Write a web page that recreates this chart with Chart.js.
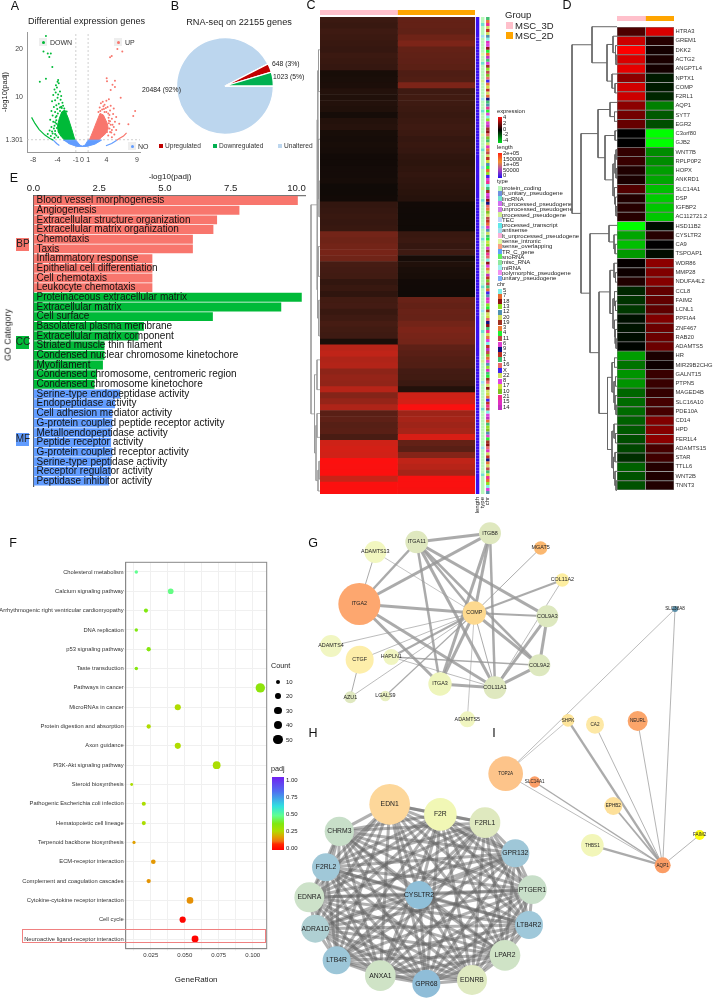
<!DOCTYPE html>
<html lang="en">
<head>
<meta charset="UTF-8" />
<title>MSC 3D vs 2D RNA-seq</title>
<script src="https://cdn.jsdelivr.net/npm/chart.js"></script>
<style>
  html, body { margin: 0; background: #fff; }
  #page { position: relative; width: 713px; height: 998px; overflow: hidden; font-family: "Liberation Sans", sans-serif; color: #222; }
  #page canvas { position: absolute; }
  #page span { position: absolute; white-space: nowrap; line-height: 1; will-change: transform; }
  #page i { position: absolute; display: block; }
</style>
</head>
<body>
<div id="page"></div>
<script>
// A: volcano
const volcanoDown = [[-5.9,22.6],[-6.45,21.4],[-6.3,19.4],[-5.1,19],[-5.6,19],[-5.35,18.3],[-4.86,16.2],[-5.9,13.8],[-6.9,13.2],[-3.9,13.55],[-4,13.2],[-4.26,12.5],[-3.8,12.9],[-4.1,12],[-4.5,11.6],[-3.6,11.2],[-4.3,11],[-3.9,10.6],[-4.7,10.5],[-3.4,10.3],[-4,9.9],[-4.4,9.4],[-3.5,9.5],[-4.9,9.2],[-3.2,8.9],[-3.8,8.7],[-4.2,8.4],[-3.1,8.3],[-4.6,8],[-3.6,7.9],[-4.05,7.6],[-5,7.2],[-4.4,7],[-4.8,6.3],[-4.3,5.9],[-5.2,5.4],[-4.7,5],[-4.5,4.2],[-5,3.9],[-5.3,3.2],[-4.4,3.1],[-4.8,2.6],[-4.2,2.2],[-3.9,1.8],[-4.5,1.7],[-3.3,7.8],[-2.9,7.7],[-3.6,7.2],[-3.95,6.7],[-4.15,6.2],[-2.5,7.1],[-3.4,8.1],[-4.4,4.9],[-4.2,5.3],[-4.6,3.6],[-4.9,3],[-5.6,2.5],[-5.1,2.1],[-4.4,2.5],[-4.1,3.7],[-4.2,4.6]];
const volcanoUp = [[5.8,19.9],[6.6,19.4],[4.87,18.5],[4.6,18.2],[5.4,13.4],[4.05,13.9],[5,12.6],[4.1,13.3],[5.4,12.1],[4.7,11.5],[6.34,9.9],[8.7,7.2],[8.4,6.2],[7.6,4.5],[4.4,9.6],[4,9.3],[3.4,9.1],[3.1,8.8],[3.7,8.5],[4.7,8.3],[4.2,8],[2.9,7.9],[3.6,7.6],[5.2,7.7],[4.6,7.3],[4,7],[5.1,6.6],[4.5,6.4],[5.6,6],[4.9,5.6],[4.4,5.2],[5.4,5],[6.1,4.6],[4.7,4.4],[5.2,3.9],[4.5,3.6],[5.6,3.3],[4.8,2.8],[5.3,2.4],[4.3,2.2],[4.9,1.8],[3.3,7.5],[3.9,7.8],[3,7.2],[3.7,7],[2.7,7],[4.3,6.7],[3.5,8.2],[4.4,4.7],[4.6,5.1],[4.35,5.8],[4.9,3.3],[5,4.4],[4.6,2.9],[4.1,2.9]];
const denseDown = [[-1.15,1.23],[-1.7,3.6],[-2.24,5.7],[-2.8,7.4],[-3.3,7.05],[-3.7,5.7],[-4,4.3],[-3.9,2.9],[-3.3,1.8],[-2.8,1.23]];
const denseUp = [[1.2,1.23],[1.75,2.9],[2.4,5],[2.95,6.7],[3.5,6.4],[4.15,4.65],[4.3,3.6],[3.9,2.6],[3.2,1.8],[2.7,1.23]];
const denseNo = [[-3.06,1.23],[-1,1.23],[-0.33,0.2],[0.05,0],[0.5,0.2],[1,1.23],[3.2,1.23],[2.1,0.4],[0.77,-0.05],[-0.87,-0.05],[-2.24,0.55]];
const tailDown = [[-8.25,5.9],[-7.7,4.65],[-7,3.4],[-6.07,2.26],[-5.25,1.57],[-4.7,1.23]];
const tailUp = [[7.3,2.74],[6.8,2.05],[6.1,1.57],[5.7,1.23]];
const tailNoLeft = [[-4.7,1.23],[-4.15,0.55],[-3.7,0.14]];
const tailNoRight = [[5.7,1.23],[4.86,0.55],[3.93,0.07]];
const volcanoXTicks = [-8, -4, -1, 0, 1, 4, 9];
const volcanoYTicks = [1.301, 10, 20];

// B: pie
const pieLabels = ["Unaltered", "Upregulated", "Downregulated"];
const pieValues = [20484, 648, 1023];

// C: heatmap rows, top to bottom
const expr3D = [.95,.9,1,.95,.9,.85,.95,.9,.85,.3,.35,.4,.55,.5,.55,.5,.25,.55,.6,.3,.25,.3,.25,.15,.15,.2,.2,.25,.1,.1,.15,.8,.85,.9,.85,.9,2,1.9,2,2.05,1.95,1.15,1.1,1.05,.8,.9,.75,1.05,1.1,.9,1,1.15,1.05,1,.35,2.8,2.9,2.7,2.75,2.3,2.4,2.35,2.8,2.2,2.4,2.7,1.5,1.6,1.45,1.5,1.2,3.1,3.2,3.15,3.95,3.9,3.95,3,3.95,3.95];
const expr2D = [1.7,1.7,1.65,1.9,2.1,1.7,1.65,1.6,1.55,1.3,1.35,2.1,1,1.05,1,.95,.9,.95,1,.95,.85,.9,.85,.75,.7,.75,.8,.75,.7,.65,.6,.15,.12,.1,.12,.1,.9,.95,.85,1,.25,.5,.35,.3,.15,.12,.1,1.8,1.7,1.8,1.75,2,2.1,2.05,2,1.6,1.5,1.4,1.35,1.1,1.05,.95,.55,3.1,3.2,3.9,2.5,2.6,2.5,2.6,3.3,1.7,1.5,2.2,2.9,2.8,2.6,3.9,3.9,3.85];
const cTree = [9,
  [3, [2.2, [1.5, 5, 12], [1.6, 20, [1, 27, 33]]], [2.5, [1.8, 38, 43], [1.2, 47, 53]]],
  [5.5, [3, 57, 62], [4, [3, 66, 70], [2, [1, 74, 77], 79]]]];
const trackNames = ["length", "type", "chr"];
const typeLevels = ["protein_coding","lt_unitary_pseudogene","lincRNA","lt_processed_pseudogene","unprocessed_pseudogene","processed_pseudogene","TEC","processed_transcript","antisense","lt_unprocessed_pseudogene","sense_intronic","sense_overlapping","TR_C_gene","snoRNA","misc_RNA","miRNA","polymorphic_pseudogene","unitary_pseudogene"];
const typeFills = ["#b9f8b9","#6f90e0","#70e0d0","#d070f0","#d080e8","#d0f090","#c0d0f8","#60e8e8","#a0e0f0","#f8b0d8","#e0f8a0","#f8a080","#60a0f8","#60f060","#90e8a0","#a0f0f0","#f090f0","#80b0f8"];
const chrLevels = ["5","7","18","13","12","20","19","3","4","11","6","9","2","1","16","X","22","8","17","10","21","15","14"];
const chrFills = ["#7ff0e8","#e86a30","#8f1010","#90e020","#5090b0","#d0e060","#a03020","#e87838","#20f030","#c04848","#e040d0","#101080","#c03020","#40c070","#e86868","#4020f0","#d0e060","#e040e0","#d0e040","#80c020","#f03090","#e030c0","#c030c0"];
const typeTrack = [0,0,2,0,0,0,8,0,0,0,0,0,10,0,0,2,0,0,0,0,0,5,0,0,0,0,0,8,0,0,0,2,0,0,0,0,0,0,0,10,0,0,0,0,2,0,0,0,0,0,8,0,0,0,0,0,0,5,0,0,0,2,0,0,0,0,0,0,0,0,8,0,0,0,2,0,0,0,0,0,0,0,10,0,0,0,0,0,0,0,2,0,0,0,0,0,0,0,8,0,0,0,0,0,0,2,0,0,0,0,0,0,0,0,0,5,0,0,0,0,0,0,8,0,0,0,0,0,0,0,0,2,0,0,0,0,0,0,0,0,0,0,0,0,8,0,0,0,0,0,0,0,0,2,0,0,0,0,0,0];
const chrTrack = [13,7,20,16,12,5,4,0,21,17,2,8,1,22,13,10,6,3,9,19,14,15,7,18,12,5,1,11,13,4,20,8,17,0,3,10,22,6,2,14,19,13,5,21,7,9,16,12,18,4,8,1,3,15,10,20,0,13,6,17,22,2,11,14,7,19,5,9,12,1,21,4,16,13,8,18,3,10,6,20,14,0,2,17,7,5,22,12,19,9,13,1,15,4,21,10,3,8,6,16,18,14,11,2,13,20,5,7,17,0,12,22,9,19,1,10,4,3,21,13,8,6,14,16,2,5,18,7,15,12,20,9,0,17,22,1,13,3,19,4,10,8,6,2,14,21,5,12,11,7,16,9,13,18,20,1,3,0,17,4];
const lengthTrack = [6,9,4,12,8,5,14,7,3,10,6,8,22,5,9,4,11,7,6,13,5,8,3,9,15,6,4,10,7,5,12,8,6,3,9,18,7,5,11,4,8,6,10,5,13,7,4,9,6,12,5,8,16,4,7,10,6,3,11,8,5,9,7,14,4,6,10,8,5,12,3,7,9,6,20,5,8,11,4,7,6,10,5,13,8,4,9,7,6,11,5,3,12,8,6,10,7,4,15,9,5,8,6,11,4,7,10,5,9,6,13,3,8,7,5,12,6,10,4,9,7,5,17,8,6,11,4,7,9,5,10,6,3,12,8,7,5,9,6,14,4,10,8,5,7,11,6,9,4,8,5,13,7,6,10,4,9,8,5,6];
const groupNames = ["MSC_3D", "MSC_2D"];

// D: heatmap rows
const dGenes = ["HTRA3","GREM1","DKK2","ACTG2","ANGPTL4","NPTX1","COMP","F2RL1","AQP1","SYT7","EGR2","C3orf80","GJB2","WNT7B","RPLP0P2","HOPX","ANKRD1","SLC14A1","DSP","IGFBP2","AC112721.2","HSD11B2","CYSLTR2","CA9","TSPOAP1","WDR86","MMP28","NDUFA4L2","CCL8","FAIM2","LCNL1","PPFIA4","ZNF467","RAB20","ADAMTS5","HR","MIR29B2CHG","GALNT15","PTPN5","MAGED4B","SLC16A10","PDE10A","CD14","HPD","FER1L4","ADAMTS15","STAR","TTLL6","WNT2B","TNNT3"];
const d3D = [.3,.8,1,.85,.9,.55,.82,.8,.55,.45,.4,0,0,.2,.22,.12,.1,.32,.13,.15,.15,-1,-.65,-.75,-.6,.02,.05,.13,-.15,-.2,-.22,-.06,-.08,-.05,-.02,-.62,-.45,-.58,-.58,-.4,-.42,-.42,-.38,-.35,-.3,-.28,-.18,-.38,-.32,-.32];
const d2D = [.85,.15,.08,.1,.08,-.1,-.1,-.15,-.5,-.35,-.3,-1,-1,-.55,-.55,-.62,-.65,-.75,-.8,-.78,-.78,-.05,.15,0,-.05,.55,.5,.52,.38,.38,.37,.5,.42,.42,.42,.1,.05,.22,.22,.2,.27,.27,.5,.52,.55,.28,.25,.14,.12,.13];
const dTree = [45,
  [25, 0, [10, [4, 1, [1.5, 2, [1, 3, 4]]], [5, 5, [2, 6, 7]]]],
  [36,
    [19, [7, 8, [2.5, 9, 10]], [12, [2, 11, 12], [4, [2, [1, 13, 14], [1, 15, 16]], [2.5, 17, [1.5, 18, [1, 19, 20]]]]]],
    [27, [8, 21, [3, 22, [2, 23, 24]]],
      [18, [7, [3, 25, [1.5, 26, 27]], [4, [2.5, 28, [1.5, 29, 30]], [2.5, 31, [1.8, 32, [1, 33, 34]]]]],
        [9.5, [5, [2.5, 35, 36], [3, [1.5, 37, 38], [2, 39, [1, 40, 41]]]], [5, [3, 42, [1.5, 43, 44]], [3.5, [2, 45, 46], [2, 47, [1, 48, 49]]]]]]]]];

// E: GO terms
const goTerms = ["Blood vessel morphogenesis","Angiogenesis","Extracellular structure organization","Extracellular matrix organization","Chemotaxis","Taxis","Inflammatory response","Epithelial cell differentiation","Cell chemotaxis","Leukocyte chemotaxis","Proteinaceous extracellular matrix","Extracellular matrix","Cell surface","Basolateral plasma membrane","Extracellular matrix component","Striated muscle thin filament","Condensed nuclear chromosome kinetochore","Myofilament","Condensed chromosome, centromeric region","Condensed chromosome kinetochore","Serine-type endopeptidase activity","Endopeptidase activity","Cell adhesion mediator activity","G-protein coupled peptide receptor activity","Metalloendopeptidase activity","Peptide receptor activity","G-protein coupled receptor activity","Serine-type peptidase activity","Receptor regulator activity","Peptidase inhibitor activity"];
const goScores = [10.05,7.83,6.98,6.84,6.06,6.06,4.52,4.52,4.52,4.52,10.2,9.42,6.82,4.2,3.99,2.7,2.7,2.64,2.41,2.32,3.3,3.1,3,3,2.95,2.95,3,2.95,2.95,2.87];
const goGroups = ["BP","BP","BP","BP","BP","BP","BP","BP","BP","BP","CC","CC","CC","CC","CC","CC","CC","CC","CC","CC","MF","MF","MF","MF","MF","MF","MF","MF","MF","MF"];

// F: KEGG dots
const keggTerms = ["Cholesterol metabolism","Calcium signaling pathway","Arrhythmogenic right ventricular cardiomyopathy","DNA replication","p53 signaling pathway","Taste transduction","Pathways in cancer","MicroRNAs in cancer","Protein digestion and absorption","Axon guidance","PI3K-Akt signaling pathway","Steroid biosynthesis","Pathogenic Escherichia coli infection","Hematopoietic cell lineage","Terpenoid backbone biosynthesis","ECM-receptor interaction","Complement and coagulation cascades","Cytokine-cytokine receptor interaction","Cell cycle","Neuroactive ligand-receptor interaction"];
const keggRatio = [.0144,.0397,.0215,.0144,.0235,.0144,.1056,.0449,.0235,.0449,.0735,.011,.0199,.0199,.0127,.0269,.0235,.0539,.0485,.0576];
const keggCount = [7,19,10,7,11,7,52,22,11,22,36,5,10,10,6,13,11,26,23,28];
const keggPadj = [.47,.46,.36,.36,.35,.35,.33,.26,.26,.26,.27,.27,.27,.27,.18,.17,.165,.16,.01,.005];
const ratioTicks = [.0125,.025,.0375,.05,.0625,.075,.0875,.1];
const padjStops = [[0,255,0,0],[.08,255,40,0],[.12,240,112,16],[.18,224,160,0],[.26,176,220,0],[.36,128,232,16],[.47,96,255,144],[.6,48,224,224],[.8,80,112,240],[1,112,32,240]];

// G, H, I: networks, node positions
const gNames = ["ITGA11","ITGB8","ADAMTS13","MGAT5","COL11A2","ITGA2","COMP","COL9A3","COL9A2","ADAMTS4","CTGF","HAPLN1","ITGA3","COL11A1","AZU1","LGALS9","ADAMTS5"];
const gX = [290,510,166,662,727,118,463,682,658,33,119,214,360,525,91,196,442];
const gY = [36,10,66,54,150,222,249,259,406,348,389,381,462,473,502,498,568];
const gSize = [34,33,33,20,20,63,35,33,33,33,42,24,35,34,18,16,24];
const gFill = ["#dfe8bf","#dfe8bf","#f2f7c0","#fbb870","#fdeea0","#fda76f","#fdd98f","#dde8bf","#dde8bf","#f1f6c2","#fdeeaa","#f0f5c0","#eef5bb","#dfe8bf","#dfe8bf","#e8efc0","#f0f5c0"];
const gEdges = [["ITGA11","ITGB8",3],["ITGA11","ITGA2",2.5],["ITGB8","ITGA2",3],["ADAMTS13","ITGA2",1],["ITGA11","COMP",2.5],["ITGA11","ITGA3",2.5],["ITGA11","COL11A1",3],["ITGA11","COL9A3",3],["ITGA11","COL9A2",2.5],["ITGB8","COMP",3],["ITGB8","ITGA3",3],["ITGB8","COL11A1",2.5],["ADAMTS13","COMP",.7],["MGAT5","COMP",1],["COL11A2","COMP",2],["COL11A2","COL11A1",.8],["ITGA2","COMP",3],["ITGA2","COL11A1",3],["ITGA2","ITGA3",3],["COMP","COL9A3",2],["COMP","COL9A2",3],["COMP","COL11A1",1],["COMP","ITGA3",3],["COMP","ADAMTS4",.8],["COMP","CTGF",.8],["COMP","HAPLN1",2],["COMP","AZU1",.8],["COMP","LGALS9",1.2],["COMP","ADAMTS5",.7],["COL9A3","COL9A2",3],["COL9A3","COL11A1",3],["COL9A2","COL11A1",3],["HAPLN1","COL9A2",1.5],["HAPLN1","COL11A1",.8],["ITGA3","COL11A1",3],["CTGF","AZU1",1]];
const hNames = ["EDN1","F2R","F2RL1","GPR132","PTGER1","LTB4R2","LPAR2","EDNRB","GPR68","ANXA1","LTB4R","ADRA1D","EDNRA","F2RL2","CHRM3","CYSLTR2"];
const hX = [269,421,555,646,697,687,615,516,379,241,110,46,28,78,118,357];
const hY = [133,163,188,280,389,495,586,660,671,647,601,506,412,322,214,405];
const hSize = [61,49,46,42,43,42,46,45,42,46,42,42,45,42,44,42];
const hFill = ["#fdd79a","#f1f7b5","#dfe9bf","#9fc7d8","#c8dfc9","#9fc8da","#cfe3c6","#dfeac1","#8fbdd8","#cfe3c6","#9cc6d8","#afd0d3","#cde2c9","#a0c8d8","#c8dfc9","#8fbfd8"];
const iNames = ["SLC38A8","SHPK","CA2","NEURL","TOP2A","SLC14A1","EPHB2","THBS1","AQP1","FAIM2"];
const iX = [465,144,225,353,-43,44,280,217,428,539];
const iY = [-243,91,104,93,251,276,348,466,526,435];
const iSize = [9,19,27,30,52,17,27,34,24,15];
const iFill = ["#5b8fa8","#fde49a","#fde8a5","#fba56a","#fdc48a","#fb9f68","#fde09a","#f2f6b9","#fb9d65","#ffff10"];
const iEdges = [["TOP2A","SHPK",.7],["TOP2A","SLC38A8",.8],["TOP2A","AQP1",.8],["SLC14A1","AQP1",1.3],["SHPK","AQP1",2.4],["CA2","AQP1",.9],["NEURL","AQP1",.9],["EPHB2","AQP1",1.8],["THBS1","AQP1",2.4],["FAIM2","AQP1",.9],["SLC38A8","AQP1",.9]];

const page = document.getElementById("page");
const SANS = '"Liberation Sans", sans-serif';

Chart.defaults.responsive = false;
Chart.defaults.animation = false;
Chart.defaults.devicePixelRatio = 1;
Chart.defaults.font.family = SANS;
Chart.defaults.color = "#222";
Chart.defaults.plugins.legend.display = false;
Chart.defaults.plugins.tooltip.enabled = false;
Chart.defaults.layout.padding = 0;
Chart.defaults.layout.autoPadding = false;

function panel(x, y, w, h, config) {
  const c = document.createElement("canvas");
  c.width = w;
  c.height = h;
  c.style.left = x + "px";
  c.style.top = y + "px";
  page.appendChild(c);
  return new Chart(c, config);
}

function txt(s, x, y, size, opts = {}) {
  const e = document.createElement("span");
  e.textContent = s;
  e.style.left = x + "px";
  e.style.top = y + "px";
  e.style.fontSize = size + "px";
  const ax = opts.anchor === "c" ? "-50%" : opts.anchor === "r" ? "-100%" : "0";
  e.style.transform = `translate(${ax},-50%)` + (opts.rot ? ` rotate(${opts.rot}deg)` : "");
  if (opts.color) e.style.color = opts.color;
  page.appendChild(e);
}

function box(x, y, w, h, css) {
  const e = document.createElement("i");
  e.style.cssText = `left:${x}px;top:${y}px;width:${w}px;height:${h}px;${css}`;
  page.appendChild(e);
}

function ramp(stops, v) {
  let i = 1;
  while (i < stops.length - 1 && v > stops[i][0]) i++;
  const a = stops[i - 1], b = stops[i];
  const t = Math.min(1, Math.max(0, (v - a[0]) / (b[0] - a[0])));
  const mix = (k) => Math.round(a[k] + (b[k] - a[k]) * t);
  return `rgb(${mix(1)},${mix(2)},${mix(3)})`;
}

const exprStops = [[0,12,8,6],[.5,32,16,10],[1,62,26,18],[2,115,36,24],[3,200,36,24],[4,255,15,15]];
const signedColor = (v) => v >= 0 ? `rgb(${Math.round(255 * v)},0,0)` : `rgb(0,${Math.round(-255 * v)},0)`;
const xy = (pairs) => pairs.map((p) => ({ x: p[0], y: p[1] }));

// tree -> y position of node, plus the segments of the bracket
function treeSegs(node, segs) {
  if (typeof node === "number") return { y: node, h: 0 };
  const a = treeSegs(node[1], segs), b = treeSegs(node[2], segs);
  segs.push({ x: a.h, y: a.y }, { x: node[0], y: a.y }, { x: node[0], y: b.y }, { x: b.h, y: b.y }, { x: null, y: null });
  return { y: (a.y + b.y) / 2, h: node[0] };
}

const fixedTicks = (vals) => (s) => { s.ticks = vals.map((v) => ({ value: v })); };
const hidden = { display: false };

/* ---------- A ---------- */
const volcGreen = "#00ba38", volcRed = "#f8766d", volcBlue = "#619cff";
const poly = (pts, col) => ({ type: "scatter", showLine: true, data: xy(pts), borderWidth: 1, borderColor: col, backgroundColor: col, fill: "shape", pointRadius: 0 });
const tail = (pts, col) => ({ type: "scatter", showLine: true, data: xy(pts), borderWidth: 1.2, borderColor: col, pointRadius: 0 });
const guide = (pts) => ({ type: "scatter", showLine: true, data: xy(pts), borderWidth: .7, borderColor: "#bbb", borderDash: [2, 2], pointRadius: 0 });
panel(0, 20, 150, 150, {
  type: "scatter",
  data: { datasets: [
    poly(denseNo, volcBlue), poly(denseDown, volcGreen), poly(denseUp, volcRed),
    tail(tailDown, volcGreen), tail(tailUp, volcRed), tail(tailNoLeft, volcBlue), tail(tailNoRight, volcBlue),
    { data: xy(volcanoDown), pointRadius: 1, backgroundColor: volcGreen, borderWidth: 0 },
    { data: xy(volcanoUp), pointRadius: 1, backgroundColor: volcRed, borderWidth: 0 },
    guide([[-1, -1.2], [-1, 23.4]]), guide([[1, -1.2], [1, 23.4]]), guide([[-9, 1.301], [9.5, 1.301]]),
  ] },
  options: {
    layout: { padding: { top: 12, right: 10 } },
    scales: {
      x: { type: "linear", min: -9, max: 9.5, grid: { display: false, tickLength: 3 }, border: { color: "#999" },
        afterBuildTicks: fixedTicks(volcanoXTicks), afterFit: (s) => { s.height = 18; },
        ticks: { font: { size: 7 }, color: "#444", maxRotation: 0, autoSkip: false, padding: 1, callback: (v) => String(v) } },
      y: { min: -1.2, max: 23.4, grid: { display: false, tickLength: 3 }, border: { color: "#999" },
        title: { display: true, text: "-log10(padj)", font: { size: 7.5 }, padding: 0 },
        afterBuildTicks: fixedTicks(volcanoYTicks), afterFit: (s) => { s.width = 27; },
        ticks: { font: { size: 7 }, color: "#444", padding: 1, callback: (v) => String(v) } },
    },
  },
});
txt("Differential expression genes", 28, 22, 9.1);
[["DOWN", 39, 42, volcGreen, 50], ["UP", 114, 42, volcRed, 125], ["NO", 128, 146, volcBlue, 138]].forEach((l) => {
  box(l[1], l[2] - 4, 8, 8, "background:#eee");
  box(l[1] + 2.5, l[2] - 1.5, 3, 3, `background:${l[3]};border-radius:50%`);
  txt(l[0], l[4], l[2], 7, { color: "#333" });
});

/* ---------- B ---------- */
panel(170, 30, 110, 112, {
  type: "pie",
  data: { labels: pieLabels, datasets: [{ data: pieValues, backgroundColor: ["#bcd6ee", "#c00000", "#00b050"], borderColor: "#fff", borderWidth: 1.3 }] },
  options: { rotation: 90, layout: { padding: { left: 6, right: 6, top: 7, bottom: 7 } } },
});
txt("RNA-seq on 22155 genes", 239, 23, 9.2, { anchor: "c" });
txt("648 (3%)", 272, 64, 6.8);
txt("1023 (5%)", 273, 77, 6.8);
txt("20484 (92%)", 142, 90, 6.8);
[["Upregulated", 159, "#c00000"], ["Downregulated", 213, "#00b050"], ["Unaltered", 278, "#bcd6ee"]].forEach((l) => {
  box(l[1], 144, 4, 4, `background:${l[2]}`);
  txt(l[0], l[1] + 6, 146, 6.6, { color: "#333" });
});

/* ---------- C ---------- */
const cRows = expr3D.map((_, i) => i);
const unit = (arr) => arr.map(() => 1);
const fullBars = { barPercentage: 1, categoryPercentage: 1, borderWidth: 0 };
const groupHeader = (x, y, w, h) => panel(x, y, w, h, {
  type: "bar",
  data: { labels: ["Group"], datasets: groupNames.map((g, i) => ({ label: g, data: [1], backgroundColor: i ? "#ffa500" : "#ffc0cb", ...fullBars })) },
  options: { indexAxis: "y", scales: { x: { display: false, stacked: true, min: 0, max: 2 }, y: { display: false, stacked: true } } },
});
groupHeader(320, 10, 155, 5);
panel(320, 17, 155, 477, {
  type: "bar",
  data: { labels: cRows, datasets: [
    { label: "MSC_3D", data: unit(expr3D), backgroundColor: expr3D.map((v) => ramp(exprStops, v)), ...fullBars },
    { label: "MSC_2D", data: unit(expr2D), backgroundColor: expr2D.map((v) => ramp(exprStops, v)), ...fullBars },
  ] },
  options: { indexAxis: "y", scales: { x: { display: false, stacked: true, min: 0, max: 2 }, y: { display: false, stacked: true } } },
});
const cSegs = [];
treeSegs(cTree, cSegs);
panel(306, 17, 14, 477, {
  type: "scatter",
  data: { datasets: [{ data: cSegs, showLine: true, borderColor: "#999", borderWidth: .8, pointRadius: 0 }] },
  options: { scales: { x: { display: false, reverse: true, min: 0, max: 14 }, y: { display: false, reverse: true, min: -.5, max: 79.5 } } },
});
const lenStops = [[0,52,14,242],[100,110,30,220],[200,255,30,20]];
panel(475, 17, 23, 507, {
  type: "bar",
  data: { labels: trackNames, datasets: chrTrack.map((c, i) => ({
    data: [1, 1, 1],
    backgroundColor: [ramp(lenStops, lengthTrack[i]), typeFills[typeTrack[i]], chrFills[c]],
    barPercentage: .68, categoryPercentage: 1, borderWidth: 0,
  })) },
  options: { scales: {
    x: { stacked: true, grid: { display: false, drawTicks: false }, border: hidden, afterFit: (s) => { s.height = 30; },
      ticks: { font: { size: 6 }, maxRotation: 90, minRotation: 90, autoSkip: false, padding: 3 } },
    y: { display: false, stacked: true, reverse: true, min: 0, max: chrTrack.length },
  } },
});
txt("Group", 505, 15, 9.5);
groupNames.forEach((g, i) => {
  box(506, 22 + i * 10, 7, 7, `background:${i ? "#ffa500" : "#ffc0cb"}`);
  txt(g, 515, 25.5 + i * 10, 9.5);
});
txt("expression", 497, 112, 5.8);
box(498, 117, 4, 26, "background:linear-gradient(#ff1010,#000 50%,#00e020)");
["4", "2", "0", "-2", "-4"].forEach((t, i) => txt(t, 503, 118 + i * 5.8, 5.8));
txt("length", 497, 148, 5.8);
box(498, 153, 4, 25, "background:linear-gradient(#ff2010,#f09030 35%,#a040c0 70%,#2010f0)");
["2e+05", "150000", "1e+05", "50000", "0"].forEach((t, i) => txt(t, 503, 154 + i * 5.6, 5.8));
txt("type", 497, 182, 5.8);
typeLevels.forEach((t, i) => {
  box(498, 185.5 + i * 5.3, 3.5, 5, `background:${typeFills[i]}`);
  txt(t, 502, 188 + i * 5.3, 6);
});
txt("chr", 497, 285, 5.8);
chrLevels.forEach((t, i) => {
  box(498, 288.5 + i * 5.3, 4, 5, `background:${chrFills[i]}`);
  txt(t, 503, 291 + i * 5.3, 5.8);
});

/* ---------- D ---------- */
groupHeader(617, 16, 57, 5);
const cellEdge = { barPercentage: 1, categoryPercentage: 1, borderWidth: .8, borderColor: "#808080", borderSkipped: false };
panel(617, 22, 96, 473, {
  type: "bar",
  data: { labels: dGenes, datasets: [
    { label: "MSC_3D", data: unit(d3D), backgroundColor: d3D.map(signedColor), ...cellEdge },
    { label: "MSC_2D", data: unit(d2D), backgroundColor: d2D.map(signedColor), ...cellEdge },
  ] },
  options: { indexAxis: "y", scales: {
    x: { display: false, stacked: true, min: 0, max: 2 },
    y: { position: "right", stacked: true, grid: { display: false, drawTicks: false }, border: hidden, afterFit: (s) => { s.width = 39; },
      ticks: { font: { size: 5.8 }, autoSkip: false, padding: 1.5, color: "#333" } },
  } },
});
const dSegs = [];
treeSegs(dTree, dSegs);
panel(565, 22, 52, 473, {
  type: "scatter",
  data: { datasets: [{ data: dSegs, showLine: true, borderColor: "#666", borderWidth: 1, pointRadius: 0 }] },
  options: { scales: { x: { display: false, reverse: true, min: 0, max: 52 }, y: { display: false, reverse: true, min: -.5, max: 49.5 } } },
});

/* ---------- E ---------- */
const goFill = { BP: "#f8766d", CC: "#00ba38", MF: "#619cff" };
panel(0, 178, 312, 317, {
  type: "bar",
  data: { labels: goTerms, datasets: [{ data: goScores, backgroundColor: goGroups.map((g) => goFill[g]), barPercentage: .92, categoryPercentage: 1, borderWidth: 0 }] },
  options: {
    indexAxis: "y",
    layout: { padding: { right: 6.3, bottom: 4 } },
    scales: {
      x: { position: "top", min: 0, max: 10.35, grid: { display: false, tickLength: 2 }, border: { color: "#777", width: 1.2 },
        afterFit: (s) => { s.height = 17.7; },
        afterBuildTicks: fixedTicks([0, 2.5, 5, 7.5, 10]),
        ticks: { font: { size: 9.6 }, padding: 0, maxRotation: 0, callback: (v) => v.toFixed(1) } },
      y: { grid: { display: false, tickLength: 2 }, border: { color: "#555", width: 1.2 },
        afterFit: (s) => { s.width = 33.5; },
        ticks: { z: 1, mirror: true, padding: 3, font: { size: 10 }, color: "#111", autoSkip: false } },
    },
  },
});
txt("-log10(padj)", 170, 177, 8, { anchor: "c" });
txt("GO Category", 8, 335, 8.8, { anchor: "c", rot: -90 });
[["BP", 244, "#f8766d"], ["CC", 342, "#00ba38"], ["MF", 439, "#619cff"]].forEach((l) => {
  box(16, l[1] - 6.5, 13, 13, `background:${l[2]}`);
  txt(l[0], 22.5, l[1], 10, { anchor: "c", color: "#222" });
});

/* ---------- F ---------- */
const frame = { id: "frame", afterDatasetsDraw(chart) {
  const a = chart.chartArea, g = chart.ctx;
  g.save();
  g.strokeStyle = "#888";
  g.lineWidth = 1;
  g.strokeRect(a.left, a.top, a.right - a.left, a.bottom - a.top);
  g.restore();
} };
panel(0, 555, 270, 430, {
  type: "bubble",
  data: { labels: keggTerms, datasets: [{
    data: keggTerms.map((t, i) => ({ x: keggRatio[i], y: t, r: .65 * Math.sqrt(keggCount[i]) })),
    backgroundColor: keggPadj.map((v) => ramp(padjStops, v)), borderWidth: 0,
  }] },
  options: {
    layout: { padding: { top: 7.3, right: 3.3 } },
    scales: {
      x: { type: "linear", min: .0066, max: .1103, grid: { color: "#f0f0f0", tickLength: 2 }, border: { color: "#888" },
        title: { display: true, text: "GeneRation", font: { size: 8 }, padding: { top: 2, bottom: 0 } },
        afterBuildTicks: fixedTicks(ratioTicks), afterFit: (s) => { s.height = 36.3; },
        ticks: { font: { size: 6 }, color: "#333", maxRotation: 0, autoSkip: false, padding: 1,
          callback: (v) => (Math.round(v * 1000) % 25 === 0 ? v.toFixed(3) : "") } },
      y: { type: "category", labels: keggTerms, offset: true, grid: { color: "#f0f0f0", tickLength: 2 }, border: { color: "#888" },
        afterFit: (s) => { s.width = 125.7; },
        ticks: { font: { size: 5.8 }, color: "#333", autoSkip: false, padding: 0 } },
    },
  },
  plugins: [frame],
});
box(22, 929, 244, 14, "border:1px solid #f08080;box-sizing:border-box");
txt("Count", 271, 666, 7.2);
[10, 20, 30, 40, 50].forEach((n, i) => {
  const r = .65 * Math.sqrt(n);
  box(278 - r, 681.7 + i * 14.45 - r, r * 2, r * 2, "background:#000;border-radius:50%");
  txt(String(n), 286, 681.7 + i * 14.45, 6);
});
txt("padj", 271, 769, 7.2);
box(272, 777, 12, 73, "background:linear-gradient(#7020f0,#5070f0 20%,#30e0e0 40%,#60ff90 53%,#80e810 64%,#b0dc00 74%,#e0a000 82%,#f07010 88%,#ff2800 92%,#f00)");
["1.00", "0.75", "0.50", "0.25", "0.00"].forEach((t, i) => txt(t, 286, 780 + i * 17, 6));

/* ---------- G H I ---------- */
const nodeLabels = { id: "nodeLabels", afterDatasetsDraw(chart, _, opts) {
  const meta = chart.getDatasetMeta(chart.data.datasets.length - 1), g = chart.ctx;
  g.save();
  g.font = `${opts.size}px ${SANS}`;
  g.fillStyle = "#222";
  g.textAlign = "center";
  g.textBaseline = "middle";
  meta.data.forEach((el, i) => g.fillText(opts.names[i], el.x, el.y));
  g.restore();
} };
function network(x, y, w, h, range, names, xs, ys, sizes, fills, edges, edgeColor, fontSize) {
  const at = (n) => { const i = names.indexOf(n); return { x: xs[i], y: ys[i] }; };
  const lines = edges.map((e) => ({
    type: "scatter", showLine: true, data: [at(e[0]), at(e[1])],
    borderWidth: e[2], borderColor: edgeColor, pointRadius: 0, order: 2,
  }));
  panel(x, y, w, h, {
    type: "bubble",
    data: { datasets: [...lines, {
      data: names.map((n, i) => ({ x: xs[i], y: ys[i], r: sizes[i] / 3 })),
      backgroundColor: fills, borderWidth: 0, order: 1,
    }] },
    options: {
      scales: { x: { display: false, min: range[0], max: range[1] }, y: { display: false, reverse: true, min: range[2], max: range[3] } },
      plugins: { nodeLabels: { names, size: fontSize } },
    },
    plugins: [nodeLabels],
  });
}
network(315, 510, 270, 220, [-15, 795, -60, 600], gNames, gX, gY, gSize, gFill, gEdges, "rgba(150,150,150,.8)", 5.4);
const hEdges = [];
hNames.forEach((a, i) => hNames.slice(i + 1).forEach((b) => hEdges.push([a, b, 3])));
network(285, 760, 280, 238, [-45, 795, 0, 714], hNames, hX, hY, hSize, hFill, hEdges, "rgba(100,100,100,.5)", 6.8);
network(470, 590, 243, 300, [-150, 579, -300, 600], iNames, iX, iY, iSize, iFill, iEdges, "rgba(150,150,150,.8)", 4.6);

[["A", 15, 6], ["B", 175, 6], ["C", 311, 5], ["D", 567, 5], ["E", 14, 178], ["F", 13, 543], ["G", 313, 543], ["H", 313, 733], ["I", 494, 733]]
  .forEach((l) => txt(l[0], l[1], l[2], 12.5, { anchor: "c", color: "#111" }));
</script>
</body>
</html>
